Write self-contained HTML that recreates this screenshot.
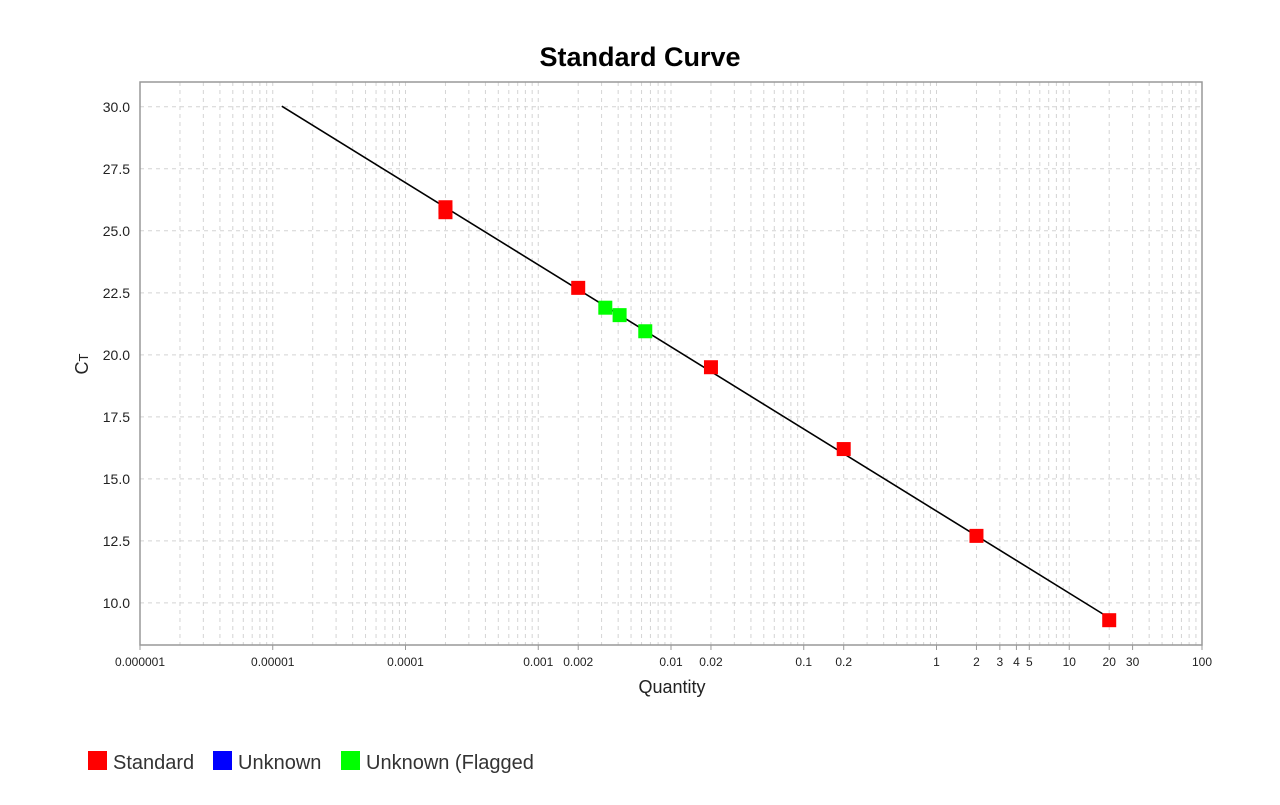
<!DOCTYPE html>
<html><head><meta charset="utf-8"><style>
body{margin:0;background:#fff;font-family:"Liberation Sans",sans-serif}
svg text{font-family:"Liberation Sans",sans-serif}
</style></head><body>
<svg id="chart" width="1280" height="800">
<text x="640" y="66" text-anchor="middle" font-size="27" font-weight="bold">Standard Curve</text>
<g id="grid"></g>
<rect x="140" y="82" width="1062" height="563" fill="none" stroke="#999" stroke-width="1.5"/>
<g id="axes"></g>
<g id="marks"></g>
<text x="672" y="693" text-anchor="middle" font-size="18" fill="#222">Quantity</text>
<text transform="translate(88,364) rotate(-90)" text-anchor="middle" font-size="18" fill="#222">C<tspan font-size="13">T</tspan></text>
<g>
<rect x="88" y="751" width="19" height="19" fill="#ff0000"/>
<text x="113" y="769" font-size="20" fill="#333">Standard</text>
<rect x="213" y="751" width="19" height="19" fill="#0000ff"/>
<text x="238" y="769" font-size="20" fill="#333">Unknown</text>
<rect x="341" y="751" width="19" height="19" fill="#00ff00"/>
<text x="366" y="769" font-size="20" fill="#333">Unknown (Flagged</text>
</g>
</svg>
<script>
const xTickLabels=["0.000001","0.00001","0.0001","0.001","0.002","0.01","0.02","0.1","0.2","1","2","3","4","5","10","20","30","100"];
const xTickValues=[1e-6,1e-5,1e-4,1e-3,2e-3,1e-2,2e-2,0.1,0.2,1,2,3,4,5,10,20,30,100];
const yTickValues=[10,12.5,15,17.5,20,22.5,25,27.5,30];
const stdQty=[0.0002,0.0002,0.002,0.02,0.2,2,20];
const stdCt=[25.75,25.95,22.7,19.5,16.2,12.7,9.3];
const flagQty=[0.0032,0.0041,0.0064];
const flagCt=[21.9,21.6,20.95];
const fitIntercept=13.7, fitSlope=-3.31;
const fitRange=[1.17e-5,20];

const X0=140,X1=1202,Y0=645,Y1=82,LMIN=-6,LMAX=2,YMIN=8.3,YMAX=31.0;
const xs=v=>X0+(Math.log10(v)-LMIN)/(LMAX-LMIN)*(X1-X0);
const ys=v=>Y0-(v-YMIN)/(YMAX-YMIN)*(Y0-Y1);
const NS="http://www.w3.org/2000/svg";
function mk(t,a,p){const e=document.createElementNS(NS,t);for(const k in a)e.setAttribute(k,a[k]);p.appendChild(e);return e;}
const grid=document.getElementById('grid'),axes=document.getElementById('axes'),marks=document.getElementById('marks');
for(let d=LMIN;d<LMAX;d++){for(let m=1;m<=9;m++){const x=xs(m*Math.pow(10,d));if(x<=X0+1)continue;
const l=mk('line',{x1:x,x2:x,y1:Y1,y2:Y0,stroke:'#d4d4d4','stroke-dasharray':'4,4'},grid);

}}
yTickValues.forEach(v=>{const y=ys(v);
const l=mk('line',{x1:X0,x2:X1,y1:y,y2:y,stroke:'#d4d4d4','stroke-dasharray':'4,4'},grid);


const t=mk('text',{x:X0-10,y:y+5,'text-anchor':'end','font-size':'14',fill:'#222'},axes);t.textContent=v.toFixed(1);

});
xTickValues.forEach((v,i)=>{const x=xs(v);
const tk=mk('line',{x1:x,x2:x,y1:Y0,y2:Y0+5,stroke:'#999'},axes);


const t=mk('text',{x:x,y:Y0+21,'text-anchor':'middle','font-size':'12',fill:'#222'},axes);t.textContent=xTickLabels[i];

});
const fit=q=>fitIntercept+fitSlope*Math.log10(q);
const fl=mk('line',{x1:xs(fitRange[0]),y1:ys(fit(fitRange[0])),x2:xs(fitRange[1]),y2:ys(fit(fitRange[1])),stroke:'#000','stroke-width':1.6},marks);


stdQty.forEach((q,i)=>{const r=mk('rect',{x:xs(q)-7,y:ys(stdCt[i])-7,width:14,height:14,fill:'#ff0000'},marks);

});
flagQty.forEach((q,i)=>{const r=mk('rect',{x:xs(q)-7,y:ys(flagCt[i])-7,width:14,height:14,fill:'#00ff00'},marks);

});
</script>
</body></html>
